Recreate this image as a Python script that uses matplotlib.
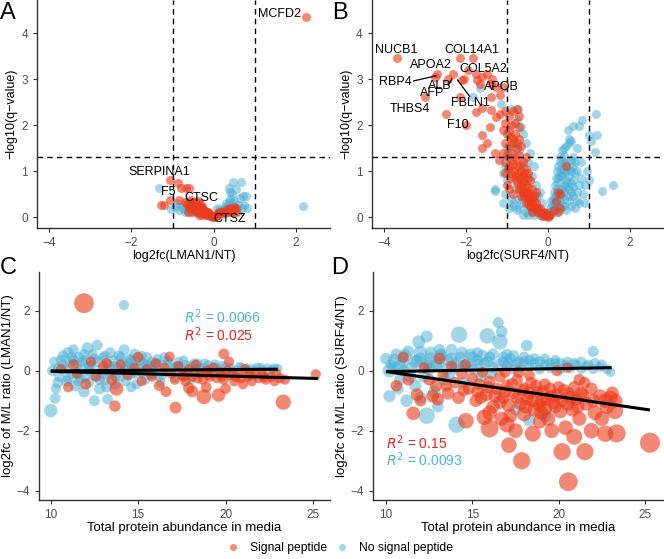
import numpy as np
from matplotlib import pyplot as plt
from matplotlib.lines import Line2D

plt.rcParams['font.family'] = ['Liberation Sans', 'DejaVu Sans']

RED = '#EB3B1A'
BLUE = '#4AAFD5'

# ---- A: LMAN1 volcano ----
a_sig_x = [2.25, -1.05, -0.87, -0.79, -0.59, -0.68, -1.07, -0.83, -1.28, -1.2,
           -0.7, -0.65, -0.6, -0.55, -0.5, -0.5, -0.45, -0.45, -0.4, -0.4, -0.35, -0.35,
           -0.3, -0.3, -0.28, -0.25, -0.22, -0.2, -0.18, -0.15, -0.12, -0.1, -0.08, -0.05,
           -0.02, 0.0, 0.02, 0.05, 0.1, 0.15, 0.2, 0.25, 0.3, 0.35, 0.4, 0.45, 0.5, 0.55,
           0.5, 0.55, 0.38, -0.6, -0.55, -0.62, -0.38, -0.32, -0.27,
           -0.48, -0.42, -0.33, -0.26, -0.17, -0.13, 0.08, 0.12, 0.28, 0.42, -0.52, -0.36]
a_sig_y = [4.35, 0.8, 0.75, 0.64, 0.64, 0.64, 0.37, 0.37, 0.26, 0.26,
           0.32, 0.28, 0.3, 0.25, 0.33, 0.2, 0.3, 0.15, 0.25, 0.12, 0.22, 0.1,
           0.2, 0.12, 0.05, 0.16, 0.1, 0.13, 0.05, 0.1, 0.06, 0.08, 0.03, 0.02,
           0.01, 0.0, 0.02, 0.03, 0.05, 0.08, 0.1, 0.12, 0.15, 0.18, 0.2, 0.18, 0.22, 0.2,
           0.12, 0.1, 0.1, 0.2, 0.36, 0.12, 0.35, 0.28, 0.25,
           0.24, 0.18, 0.16, 0.08, 0.07, 0.12, 0.06, 0.1, 0.08, 0.14, 0.12, 0.05]
a_non_x = [-1.33, -1.03, -0.95, -0.85, -0.78, -0.72, -0.65, -0.6, -0.55, -0.5, -0.48, -0.42,
           -0.38, -0.35, -0.3, -0.25, -0.2, -0.15, -0.1, -0.05, 0.05, 0.1, 0.15, 0.2, 0.25,
           0.3, 0.35, 0.38, 0.4, 0.42, 0.45, 0.47, 0.38, 0.54, 0.67, 0.4, 0.5, 0.55, 0.6,
           0.65, 0.72, 0.8, 0.75, 0.82, 0.7, 0.3, 0.25, 2.18, -0.9, -0.7, -0.62, -0.4, 0.12,
           0.08, 0.18, 0.32, 0.6, 0.5, 0.45, -0.25]
a_non_y = [0.64, 0.17, 0.22, 0.15, 0.22, 0.18, 0.25, 0.12, 0.2, 0.3, 0.1, 0.22,
           0.15, 0.08, 0.18, 0.1, 0.06, 0.04, 0.02, 0.03, 0.04, 0.08, 0.1, 0.15, 0.12,
           0.2, 0.25, 0.33, 0.4, 0.18, 0.3, 0.77, 0.64, 0.62, 0.77, 0.55, 0.22, 0.15, 0.27,
           0.42, 0.45, 0.45, 0.27, 0.2, 0.2, 0.3, 0.22, 0.25, 0.3, 0.1, 0.35, 0.32, 0.16,
           0.2, 0.05, 0.1, 0.1, 0.35, 0.5, 0.2]
a_labels = ['MCFD2', 'SERPINA1', 'F5', 'CTSC', 'CTSZ']
a_label_x = [1.61, -1.33, -1.11, -0.3, 0.39]
a_label_y = [4.41, 0.98, 0.55, 0.41, -0.05]

# ---- B: SURF4 volcano ----
b_sig_x = [-3.68, -2.71, -2.75, -3.01, -2.31, -2.43, -2.11, -2.15, -1.83, -1.95, -1.75, -1.73,
           -1.6, -1.48, -1.36, -1.65, -1.4, -1.26, -1.1, -1.18, -2.15, -2.5, -1.99, -1.77,
           -1.6, -1.4, -1.62, -1.42, -1.5, -1.3, -1.62, -1.26, -1.18, -1.4, -2.05,
           -1.05, -0.95, -0.85, -0.75, -0.7, -0.9, -0.8, -0.7, -1.1, -1.0, -0.9, -0.8, -0.72,
           -1.05, -0.95, -0.85, -0.75, -0.65, -1.1, -1.0, -0.9, -0.8, -0.7, -1.2, -1.05, -0.95,
           -0.85, -0.75, -0.65, -0.55, -0.9, -0.8, -0.7, -0.6, -0.5, -0.45, -0.75, -0.65, -0.55,
           -0.5, -0.4, -0.6, -0.45, -0.35, -0.5, -0.4, -0.3, -0.35, -0.25, -0.2, -0.15, -0.1,
           -0.05, 0.0, 0.05, -0.3, -0.55, -0.45, 0.45, 0.25, 0.3, 0.2, 0.3, 0.25, 0.15,
           -0.55, -0.6, -0.62, -0.48, -0.58, -0.68, -0.52, -0.42,
           -1.05, -0.98, -0.92, -0.88, -0.82, -0.78, -0.72, -0.68, -0.62, -0.58, -1.0, -0.95,
           -0.85, -0.7, -0.65, -0.55, -0.5, -0.4, -0.35, -0.3, -0.25, -0.5, -0.42, -0.38, -0.2,
           -0.1, -0.15, -0.05, 0.02, -1.05, -0.95, -0.85, -0.75]
b_sig_y = [3.46, 3.11, 3.05, 2.6, 3.11, 3.0, 2.98, 3.45, 3.45, 3.2, 3.12, 2.99,
           3.05, 3.1, 3.0, 2.9, 2.9, 2.82, 2.82, 2.65, 2.62, 2.23, 2.0, 2.29,
           2.37, 2.33, 1.78, 1.96, 1.6, 1.4, 1.5, 2.17, 2.25, 2.6, 3.0,
           2.3, 2.2, 2.3, 2.35, 2.2, 2.0, 2.05, 1.95, 1.9, 1.8, 1.75, 1.8, 1.7,
           1.6, 1.55, 1.6, 1.5, 1.55, 1.4, 1.35, 1.4, 1.3, 1.35, 1.25, 1.2, 1.1,
           1.15, 1.1, 1.0, 1.05, 0.95, 0.9, 0.85, 0.9, 0.95, 0.8, 0.75, 0.7, 0.72,
           0.65, 0.6, 0.55, 0.5, 0.45, 0.4, 0.35, 0.3, 0.2, 0.2, 0.12, 0.08, 0.05,
           0.03, 0.0, 0.05, 0.55, 0.3, 0.25, 1.1, 0.55, 0.5, 0.35, 0.2, 0.1, 0.15,
           1.3, 1.2, 0.8, 0.85, 0.45, 0.6, 0.55, 0.35,
           0.95, 1.05, 0.85, 1.25, 1.0, 0.8, 0.95, 1.15, 0.75, 0.95, 0.7, 0.6,
           0.5, 0.6, 0.45, 0.55, 0.45, 0.45, 0.35, 0.2, 0.12, 0.3, 0.22, 0.12, 0.2,
           0.1, 0.02, 0.08, 0.02, 2.05, 1.9, 1.7, 1.6]
b_non_x = [-1.67, -1.83, -0.9, -0.74, -1.15, -0.75, -0.65, -0.6, -1.0, -0.95, -1.05, -1.0,
           -1.3, -0.9, -0.7, -0.8, -0.6, -0.7, -0.5, -0.55, -0.4, -0.3, -0.2, -0.1, -0.6,
           -0.5, -0.4, -0.3, -0.25, -0.15, -0.55, -0.45, -0.35,
           0.05, 0.1, 0.12, 0.15, 0.18, 0.2, 0.22, 0.25, 0.28, 0.3, 0.35, 0.4, 0.45, 0.5,
           0.55, 0.1, 0.15, 0.2, 0.25, 0.3, 0.35, 0.4, 0.45, 0.5, 0.55, 0.6, 0.65, 0.2,
           0.3, 0.4, 0.5, 0.6, 0.7, 0.75, 0.8, 0.35, 0.45, 0.6, 0.7, 0.8, 0.4, 0.5, 0.6,
           0.7, 0.85, 0.9, 1.18, 0.83, 0.6, 0.76, 1.0, 1.2, 1.05, 1.15, 1.59, 1.31, 0.48,
           0.5, 0.95, 1.0, 0.9, 0.7, -1.3, 0.25, 0.32, 0.38, 0.42, 0.15, 0.22, -0.85, -0.2,
           -1.1, -1.05, -0.95, -0.85, -0.75, -0.65, -0.6, -0.5, -0.45, -0.35, -0.85, -0.7,
           -1.1, -0.3, 0.05, 0.08, 0.12, 0.15, 0.18, 0.22, 0.25, 0.28, 0.32, 0.36, 0.4, 0.25,
           0.3, 0.35, 0.38, 0.42, 0.46, 0.5, 0.55, 0.55, 0.62, 0.65, 0.5, 0.55, 0.45, 0.35,
           0.45, 0.55, 0.65, 0.75]
b_non_y = [2.8, 2.62, 2.35, 2.35, 2.45, 2.1, 1.95, 1.8, 1.5, 1.3, 1.1, 0.8,
           0.57, 0.4, 0.4, 0.6, 0.5, 0.2, 0.2, 0.1, 0.15, 0.1, 0.05, 0.02, 1.1,
           1.2, 0.9, 0.7, 0.45, 0.3, 1.6, 1.4, 1.1,
           0.1, 0.25, 0.4, 0.55, 0.7, 0.85, 1.0, 1.1, 1.2, 1.3, 1.45, 1.5, 1.55, 1.6,
           1.65, 0.1, 0.2, 0.3, 0.4, 0.5, 0.6, 0.7, 0.8, 0.9, 1.0, 1.1, 1.2, 0.1,
           0.15, 0.25, 0.35, 0.45, 0.55, 0.7, 0.85, 0.9, 1.2, 1.3, 1.0, 1.2, 0.4, 0.6, 0.8,
           0.35, 0.5, 0.7, 2.25, 2.1, 1.98, 1.98, 1.78, 1.78, 1.65, 1.42, 0.7, 0.56, 1.9,
           1.7, 1.0, 0.8, 0.3, 1.5, 0.6, 0.85, 0.95, 1.05, 1.15, 0.3, 0.5, 0.25, 0.55,
           0.3, 0.5, 0.2, 0.3, 0.15, 0.3, 0.05, 0.05, 0.4, 0.05, 1.5, 1.45,
           0.95, 0.45, 0.2, 0.35, 0.15, 0.3, 0.45, 0.6, 0.75, 0.9, 1.05, 1.2, 1.35, 0.25,
           0.35, 0.45, 0.55, 0.65, 0.75, 0.45, 0.55, 0.75, 0.65, 0.95, 1.05, 1.25, 1.0, 0.25,
           0.15, 0.25, 0.2, 0.3]
b_labels = ['NUCB1', 'COL14A1', 'APOA2', 'COL5A2', 'RBP4', 'ALB', 'AFP', 'APOB',
            'FBLN1', 'THBS4', 'F10']
b_label_x = [-3.71, -1.87, -2.87, -1.58, -3.72, -2.64, -2.84, -1.14, -1.89, -3.37, -2.19]
b_label_y = [3.64, 3.64, 3.3, 3.23, 2.94, 2.85, 2.69, 2.83, 2.49, 2.34, 2.01]
# label leader segments
b_seg_x = [[-3.28, -2.74], [-2.43, -2.35], [-2.21, -1.91]]
b_seg_y = [[2.96, 3.07], [2.87, 3.0], [2.98, 2.62]]

# ---- C: LMAN1 ratio vs abundance ----
c_non_x = [10.0, 10.25, 10.3, 10.2, 10.4, 10.5, 10.6, 10.8, 10.9, 11.0, 11.1, 11.2, 11.3, 11.4,
           11.5, 11.6, 11.7, 11.8, 11.9, 12.0, 12.1, 12.2, 12.3, 12.4, 12.5, 12.5, 12.66, 12.7,
           12.8, 12.9, 13.0, 13.1, 13.25, 13.3, 13.4, 13.5, 13.6, 13.7, 13.8, 13.9, 14.0, 14.19,
           14.1, 14.2, 14.3, 14.4, 14.5, 14.6, 14.7, 14.8, 14.9, 15.0, 15.1, 15.2, 15.3, 15.4,
           15.5, 15.6, 15.7, 15.8, 16.0, 16.1, 16.2, 16.4, 16.5, 16.6, 16.8, 17.0, 17.1, 17.3,
           17.5, 17.7, 17.8, 18.0, 18.2, 18.4, 18.6, 18.8, 19.0, 19.2, 19.4, 19.6, 19.8, 20.0,
           20.3, 20.6, 20.9, 21.2, 21.5, 21.8, 22.1, 22.4, 22.7, 23.0, 10.7, 11.2, 11.8, 12.2,
           13.0, 13.6, 14.5, 15.9, 17.2, 18.5, 19.5, 12.0, 11.5, 13.2, 14.6, 16.3, 18.0,
           10.1, 10.4, 10.7, 11.0, 11.3, 11.6, 11.9, 12.2, 12.5, 12.8, 13.1, 13.4, 13.7, 14.0,
           14.3, 14.6, 14.9, 15.2, 15.5, 15.8, 16.1, 16.4, 16.7, 17.0, 17.3, 17.6, 17.9, 18.2,
           18.5, 18.8, 19.1, 19.4, 19.7, 20.0, 20.4, 20.8, 21.2, 21.6, 22.0, 22.4, 22.8]
c_non_y = [-1.33, -0.92, -0.6, 0.3, 0.1, -0.2, 0.35, 0.05, -0.35, 0.6, 0.25, -0.1, 0.7, -0.5,
           0.2, 0.45, -0.25, 0.05, -0.7, 0.35, 0.75, -0.4, 0.15, 0.55, -1.0, -0.15, 0.85, 0.3,
           -0.6, 0.05, 0.45, -0.3, -0.95, 0.2, 0.6, -0.1, 0.35, -0.45, 0.1, 0.5, -0.2, 2.19,
           0.25, 0.7, -0.35, 0.05, 0.4, -0.15, 0.2, 0.55, -0.45, 0.1, 0.35, -0.05, 0.25, -0.3,
           0.45, 0.15, -0.15, 0.3, 0.05, 0.4, -0.2, 0.2, 0.45, -0.05, 0.25, 0.1, -0.25, 0.3,
           0.05, 0.2, -0.15, 0.15, 0.0, 0.25, -0.1, 0.1, 0.2, -0.05, 0.12, 0.05, 0.18, -0.05,
           0.1, 0.02, 0.12, 0.0, 0.08, 0.12, 0.02, 0.1, 0.05, 0.08, 0.2, 0.45, 0.3, 0.15,
           -0.1, 0.15, 0.25, 0.15, 0.15, 0.08, -0.12, -0.2, -0.05, -0.55, -0.55, -0.4, -0.3,
           0.0, -0.4, 0.5, -0.25, 0.35, -0.35, 0.55, 0.0, 0.4, -0.3, 0.5, 0.1, -0.2, 0.45,
           0.15, 0.35, -0.1, 0.5, 0.2, -0.1, 0.25, -0.15, 0.35, -0.05, 0.15, 0.35, 0.0, 0.25,
           -0.05, 0.25, 0.05, 0.22, -0.05, 0.15, 0.0, 0.15, 0.1, 0.0, 0.12, -0.02, 0.1]
c_non_s = [70, 45, 40, 40, 35, 40, 45, 40, 45, 50, 40, 45, 45, 50,
           40, 45, 40, 45, 50, 40, 55, 40, 45, 40, 45, 45, 45, 45,
           50, 40, 40, 45, 45, 40, 45, 40, 40, 45, 40, 45, 40, 40,
           40, 45, 40, 40, 40, 35, 40, 45, 40, 40, 40, 40, 40, 40,
           40, 40, 40, 40, 40, 35, 35, 35, 40, 35, 35, 35, 35, 35,
           35, 35, 35, 35, 35, 35, 35, 35, 35, 35, 35, 30, 30, 30,
           30, 30, 30, 30, 30, 30, 30, 30, 30, 30, 40, 40, 40, 40,
           40, 40, 40, 35, 35, 35, 30, 40, 40, 45, 40, 35, 35,
           45, 45, 45, 45, 45, 45, 45, 45, 45, 45, 40, 40, 40, 40,
           40, 40, 40, 40, 40, 40, 35, 35, 35, 35, 35, 35, 35, 35,
           35, 35, 35, 35, 30, 30, 30, 30, 30, 30, 30, 30, 30]
c_sig_x = [11.9, 23.3, 25.16, 13.67, 17.14, 18.76, 19.6, 18.1, 17.9, 13.76, 19.9,
           10.6, 11.0, 11.3, 11.5, 12.0, 12.3, 12.6, 13.0, 13.2, 13.5, 14.0, 14.4, 14.8, 15.0,
           15.2, 15.5, 15.8, 16.0, 16.2, 16.5, 16.8, 16.9, 17.1, 17.3, 17.5, 17.7, 17.9, 18.1,
           18.3, 18.5, 18.7, 18.9, 19.1, 19.3, 19.5, 19.7, 19.9, 20.1, 20.3, 20.5, 20.7, 20.9,
           21.1, 21.3, 21.5, 21.7, 21.9, 22.1, 22.3, 22.6, 22.9, 23.1, 23.4, 20.2, 18.9, 21.0,
           16.6, 20.0, 17.6, 18.4, 19.0, 19.8, 20.6, 21.4, 22.2, 22.8]
c_sig_y = [2.25, -1.05, -0.12, -1.18, -1.23, -0.87, -0.81, -0.69, -0.58, -0.6, 0.56,
           0.05, -0.55, 0.2, -0.1, -0.45, 0.3, -0.2, 0.15, 0.25, -0.3, 0.2, -0.15, 0.1, 0.45,
           -0.35, 0.05, -0.2, 0.25, -0.5, 0.1, 0.47, -0.1, -0.3, 0.15, -0.15, -0.35, 0.05, -0.2,
           0.2, -0.1, -0.3, 0.0, -0.2, 0.1, -0.25, -0.05, -0.3, 0.0, -0.15, -0.35, -0.1, -0.25,
           0.05, -0.2, -0.35, -0.1, -0.25, -0.15, -0.3, -0.2, -0.1, -0.25, -0.3, 0.3, -0.55, -0.45,
           -0.7, -0.6, -0.2, -0.25, -0.15, -0.2, -0.22, -0.15, -0.22, -0.35]
c_sig_s = [150, 90, 40, 50, 55, 85, 70, 55, 50, 75, 45,
           40, 40, 45, 40, 45, 40, 40, 40, 40, 45, 40, 40, 40, 45,
           40, 40, 40, 40, 45, 40, 40, 40, 40, 40, 40, 40, 40, 40,
           40, 40, 40, 40, 40, 40, 40, 40, 40, 40, 40, 40, 40, 40,
           40, 40, 40, 40, 40, 40, 40, 40, 40, 40, 40, 40, 45, 40,
           45, 45, 40, 40, 40, 40, 40, 40, 40, 40]
c_fit_non_x, c_fit_non_y = [10.0, 23.0], [-0.01, 0.05]
c_fit_sig_x, c_fit_sig_y = [10.0, 25.3], [-0.02, -0.26]
c_r2 = ['0.0066', '0.025']

# ---- D: SURF4 ratio vs abundance ----
d_non_x = [10.0, 10.2, 10.4, 10.6, 10.8, 11.0, 11.2, 11.3, 11.5, 11.7, 11.9, 12.0, 12.2, 12.36,
           12.36, 12.4, 12.6, 12.8, 13.0, 13.2, 13.4, 13.6, 13.8, 14.09, 14.0, 14.23, 14.3, 14.5,
           14.7, 14.9, 15.1, 15.3, 15.5, 15.7, 15.87, 16.0, 16.2, 16.5, 16.6, 16.7, 16.8, 17.0,
           17.2, 17.4, 17.6, 17.8, 18.15, 18.0, 18.3, 18.3, 18.6, 18.9, 19.2, 19.5, 19.8, 20.1,
           20.4, 20.7, 21.0, 21.3, 21.6, 22.0, 22.0, 22.4, 22.8, 23.0, 10.3, 11.0, 11.8, 12.5,
           13.1, 13.7, 14.5, 15.3, 16.1, 17.0, 10.7, 12.0, 13.0, 17.5, 19.2,
           10.2, 10.5, 10.8, 11.1, 11.4, 11.7, 12.0, 12.3, 12.6, 12.9, 13.2, 13.5, 13.8, 14.1,
           14.4, 14.7, 15.0, 15.3, 15.6, 15.9, 16.2, 16.5, 16.8, 17.1, 17.4, 17.7, 18.0, 18.3,
           18.6, 18.9, 19.2, 19.5, 19.8, 20.1, 20.5, 20.9, 21.3, 21.7, 22.1, 22.5]
d_non_y = [0.4, -0.85, 0.1, 0.55, -0.3, 0.3, -1.0, 0.65, 0.1, -0.5, 0.96, 0.4, -0.2, 1.14,
           -1.5, 0.25, 0.6, -0.7, 0.2, 0.5, -0.3, 0.35, 0.7, -1.8, 0.1, 1.2, 0.45, -0.4,
           0.25, 0.55, 0.05, 0.35, -0.2, 0.25, 1.16, 0.45, 0.1, 1.6, 0.96, 1.3, 0.3, 0.15,
           0.4, 0.05, 0.25, 0.1, 0.84, 0.3, -1.65, 0.15, 0.25, 0.05, 0.2, 0.1, 0.25, 0.05,
           0.18, 0.08, 0.2, 0.05, 0.15, 0.64, 0.05, 0.12, 0.05, -0.05, 0.2, 0.0, 0.35, 0.05,
           0.7, -0.1, 0.15, 0.6, -0.1, 0.55, -0.6, -0.9, -1.2, -1.3, -1.5,
           0.0, 0.35, 0.15, 0.5, -0.2, 0.3, 0.6, 0.1, 0.4, 0.2, 0.55, 0.05, 0.4, 0.25,
           0.6, 0.1, 0.45, 0.2, 0.5, 0.3, 0.55, 0.2, 0.45, 0.25, 0.5, 0.3, 0.45, 0.35,
           0.4, 0.3, 0.4, 0.25, 0.35, 0.25, 0.3, 0.25, 0.3, 0.2, 0.25, 0.2]
d_non_s = [50, 55, 45, 50, 50, 55, 60, 50, 50, 55, 65, 55, 55, 55,
           100, 50, 55, 60, 50, 50, 55, 50, 50, 100, 50, 100, 50, 50,
           45, 50, 45, 45, 45, 45, 90, 45, 45, 45, 90, 50, 45, 45,
           45, 40, 40, 40, 50, 40, 60, 40, 40, 40, 40, 40, 40, 40,
           40, 35, 35, 35, 35, 45, 35, 35, 35, 35, 45, 50, 50, 50,
           50, 50, 45, 45, 45, 45, 50, 55, 50, 50, 60,
           70, 65, 65, 65, 60, 60, 70, 60, 60, 55, 55, 55, 55, 55,
           55, 50, 50, 50, 50, 50, 50, 50, 45, 45, 45, 45, 45, 45,
           45, 45, 40, 40, 40, 40, 40, 40, 40, 40, 40, 40]
d_sig_x = [25.29, 20.56, 17.86, 17.12, 21.52, 20.2, 23.36, 22.7, 16.0, 14.63, 15.7, 11.58, 23.26,
           10.6, 11.0, 11.3, 11.8, 12.2, 12.5, 12.9, 13.1, 13.3, 13.6, 13.8, 14.0, 14.2, 14.4,
           14.6, 14.8, 15.0, 15.2, 15.4, 15.6, 15.8, 16.0, 16.2, 16.4, 16.6, 16.8, 17.0, 17.2,
           17.4, 17.6, 17.8, 18.0, 18.2, 18.4, 18.6, 18.8, 19.0, 19.2, 19.4, 19.6, 19.8, 20.0,
           20.2, 20.4, 20.6, 20.8, 21.0, 21.2, 21.4, 21.6, 21.9, 22.1, 22.4, 22.7, 23.0, 23.3,
           22.5, 21.9, 20.9, 19.6, 18.9, 16.7, 17.5, 15.3, 16.9, 18.3, 19.9, 21.2, 13.0, 12.0,
           20.5, 19.2, 18.0, 21.5, 17.7,
           15.5, 15.9, 16.3, 16.6, 16.9, 17.1, 17.3, 17.6, 17.9, 18.1, 18.3, 18.5, 18.7, 18.9,
           19.1, 19.3, 19.5, 19.7, 19.9, 20.1, 20.3, 20.5, 20.7, 20.9, 21.1, 21.3, 16.0, 17.0,
           18.5, 19.0, 22.0, 22.8, 23.1, 14.5, 13.5, 12.7]
d_sig_y = [-2.4, -3.7, -3.0, -2.48, -2.7, -2.7, -2.09, -2.1, -1.92, -1.67, -1.55, -1.42, -1.34,
           -0.5, 0.45, -0.3, -0.8, 0.1, -0.3, -0.5, 0.4, -0.15, -0.75, 0.15, -0.4, -0.9, -0.1,
           0.2, -0.6, -0.25, -1.0, -0.45, -0.05, -0.8, -0.35, -1.2, -0.6, -0.2, -0.9, -0.5, -1.5,
           -0.75, -0.3, -1.1, -0.6, -0.95, -0.4, -1.3, -0.7, -1.0, -0.45, -1.6, -0.85, -1.2, -0.55,
           -1.0, -1.9, -0.75, -1.3, -0.95, -1.6, -0.8, -1.1, -0.6, -1.4, -0.85, -1.0, -0.9, -1.0,
           -1.6, -2.0, -2.2, -2.0, -1.7, -1.6, -2.0, -0.7, -0.05, -0.15, 0.0, -0.3, -0.95, -1.0,
           0.1, -1.25, -1.45, -0.4, -0.05,
           -0.9, -0.55, -0.85, -1.05, -0.7, -1.15, -0.45, -0.9, -0.65, -1.2, -0.75, -1.0, -0.5, -1.15,
           -0.7, -0.95, -0.6, -1.05, -0.8, -1.35, -0.65, -1.1, -0.9, -0.55, -1.2, -0.75, -1.4, -1.8,
           -2.1, -1.4, -1.0, -1.2, -0.75, -0.65, -0.5, -0.85]
d_sig_s = [150, 130, 110, 90, 110, 110, 120, 100, 120, 90, 90, 70, 100,
           50, 45, 50, 60, 45, 50, 55, 50, 45, 60, 45, 50, 60, 50,
           45, 55, 50, 60, 50, 45, 60, 50, 65, 55, 50, 60, 55, 70,
           55, 50, 60, 55, 60, 50, 70, 55, 60, 50, 75, 60, 65, 55,
           60, 80, 55, 70, 60, 75, 60, 70, 55, 80, 70, 80, 75, 70,
           80, 90, 95, 80, 70, 75, 80, 55, 45, 45, 45, 50, 60, 50,
           40, 80, 75, 50, 50,
           60, 55, 60, 65, 60, 70, 55, 60, 55, 70, 60, 65, 55, 70,
           60, 65, 55, 70, 60, 75, 55, 70, 65, 55, 70, 60, 80, 90,
           95, 75, 70, 80, 65, 55, 50, 60]
d_fit_non_x, d_fit_non_y = [10.0, 23.07], [-0.03, 0.1]
d_fit_sig_x, d_fit_sig_y = [10.0, 25.29], [-0.03, -1.31]
d_r2 = ['0.15', '0.0093']

fig = plt.figure(figsize=(6.64, 5.59), dpi=100)
axA = fig.add_axes([0.0557, 0.592, 0.441, 0.408])
axB = fig.add_axes([0.560, 0.592, 0.440, 0.408])
axC = fig.add_axes([0.0587, 0.1055, 0.438, 0.408])
axD = fig.add_axes([0.562, 0.1055, 0.438, 0.408])


def style(ax):
    for s in ['top', 'right']:
        ax.spines[s].set_visible(False)
    for s in ['left', 'bottom']:
        ax.spines[s].set_linewidth(1.0)
        ax.spines[s].set_color('#333333')
    ax.tick_params(labelsize=8.5, colors='#333333', labelcolor='#4D4D4D', length=3, width=0.8)


def volcano(ax, nx, ny, sx, sy, xlabel):
    ax.scatter(nx, ny, s=42, color=BLUE, alpha=0.5, linewidths=0)
    ax.scatter(sx, sy, s=42, color=RED, alpha=0.6, linewidths=0)
    for v in [-1, 1]:
        ax.axvline(v, color='black', linestyle='--', linewidth=1, dashes=(4, 3))
    ax.axhline(1.301, color='black', linestyle='--', linewidth=1, dashes=(4, 3))
    ax.set_xlim(-4.3, 2.83)
    ax.set_ylim(-0.24, 4.72)
    ax.set_xticks([-4, -2, 0, 2])
    ax.set_yticks([0, 1, 2, 3, 4])
    ax.set_xlabel(xlabel, fontsize=9, labelpad=1)
    ax.set_ylabel('\u2212log10(q\u2212value)', fontsize=9, labelpad=3)
    style(ax)


volcano(axA, a_non_x, a_non_y, a_sig_x, a_sig_y, 'log2fc(LMAN1/NT)')
for t, x, y in zip(a_labels, a_label_x, a_label_y):
    axA.text(x, y, t, fontsize=9, ha='center', va='center')
axA.plot([-0.99, -0.99], [0.43, 0.37], color='black', linewidth=0.8)

volcano(axB, b_non_x, b_non_y, b_sig_x, b_sig_y, 'log2fc(SURF4/NT)')
for t, x, y in zip(b_labels, b_label_x, b_label_y):
    axB.text(x, y, t, fontsize=9, ha='center', va='center')
for sx, sy in zip(b_seg_x, b_seg_y):
    axB.plot(sx, sy, color='black', linewidth=0.9)


def ratio(ax, nx, ny, ns, sx, sy, ss, fits, ylabel, scale):
    ax.scatter(nx, ny, s=np.array(ns) * scale, color=BLUE, alpha=0.5, linewidths=0)
    ax.scatter(sx, sy, s=np.array(ss) * scale, color=RED, alpha=0.6, linewidths=0)
    for fx, fy in fits:
        ax.plot(fx, fy, color='black', linewidth=2.2, solid_capstyle='butt')
    ax.set_ylim(-4.31, 3.29)
    ax.set_xticks([10, 15, 20, 25])
    ax.set_yticks([-4, -2, 0, 2])
    ax.set_xlabel('Total protein abundance in media', fontsize=9.5, labelpad=1)
    ax.set_ylabel(ylabel, fontsize=9.5, labelpad=2)
    style(ax)


ratio(axC, c_non_x, c_non_y, c_non_s, c_sig_x, c_sig_y, c_sig_s,
      [(c_fit_non_x, c_fit_non_y), (c_fit_sig_x, c_fit_sig_y)], 'log2fc of M/L ratio (LMAN1/NT)', 1.35)
axC.set_xlim(9.33, 25.96)
axC.text(17.6, 1.8, '$R^2$ = ' + c_r2[0], color='#4BB4D9', fontsize=10, va='center')
axC.text(17.6, 1.21, '$R^2$ = ' + c_r2[1], color='#E8231E', fontsize=10, va='center')

ratio(axD, d_non_x, d_non_y, d_non_s, d_sig_x, d_sig_y, d_sig_s,
      [(d_fit_non_x, d_fit_non_y), (d_fit_sig_x, d_fit_sig_y)], 'log2fc of M/L ratio (SURF4/NT)', 1.4)
axD.set_xlim(9.26, 26.1)
axD.text(10.0, -2.39, '$R^2$ = ' + d_r2[0], color='#E8231E', fontsize=10, va='center')
axD.text(10.0, -2.98, '$R^2$ = ' + d_r2[1], color='#4BB4D9', fontsize=10, va='center')

for letter, x, y in [('A', 0.012, 0.977), ('B', 0.512, 0.977), ('C', 0.012, 0.52), ('D', 0.512, 0.52)]:
    fig.text(x, y, letter, fontsize=17, ha='center', va='center')

handles = [Line2D([], [], marker='o', linestyle='', color=RED, alpha=0.6, markersize=5, markeredgewidth=0),
           Line2D([], [], marker='o', linestyle='', color=BLUE, alpha=0.5, markersize=5, markeredgewidth=0)]
fig.legend(handles, ['Signal peptide', 'No signal peptide'], loc='center', bbox_to_anchor=(0.512, 0.02),
           ncol=2, frameon=False, fontsize=8.7, handlelength=1.0, handletextpad=0.9, columnspacing=0.8)

plt.savefig('out.png', dpi=100)
